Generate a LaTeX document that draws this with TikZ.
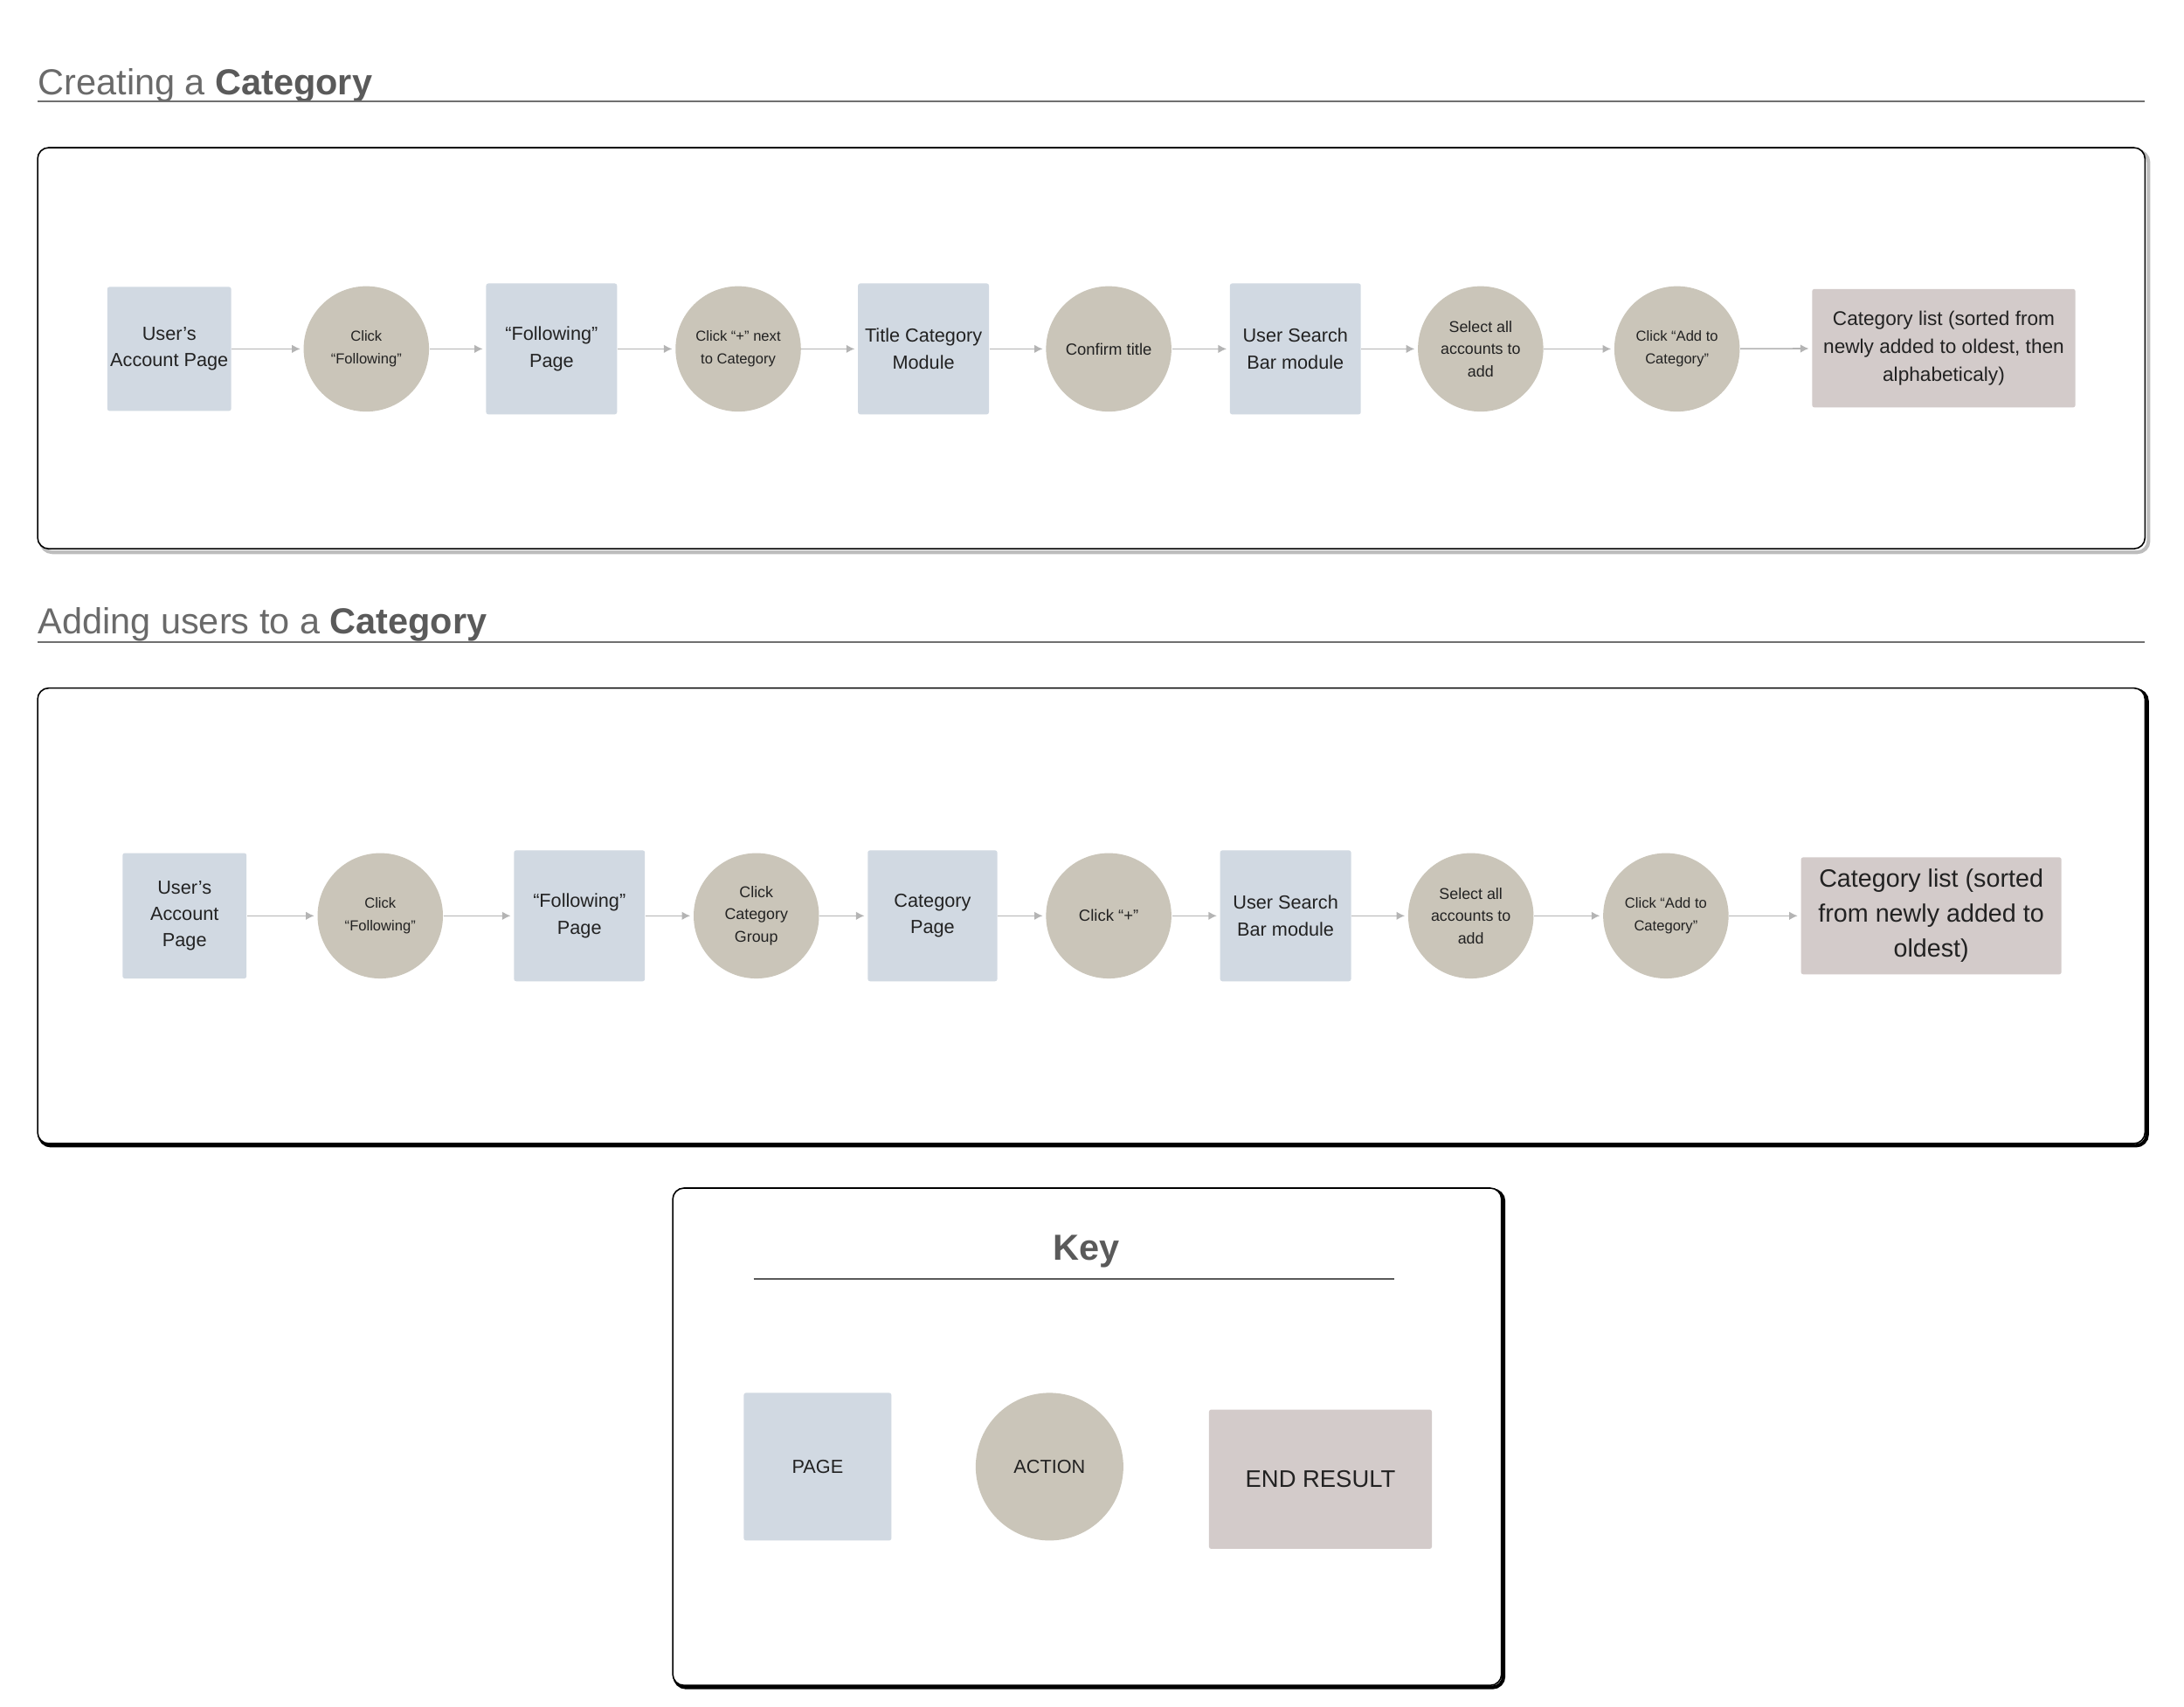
\documentclass[tikz,border=0pt]{standalone}
\usepackage{fontspec}
\setmainfont{Liberation Sans}
\usetikzlibrary{arrows.meta}

\definecolor{pagefill}{HTML}{D1D9E2}
\definecolor{actionfill}{HTML}{CAC5B9}
\definecolor{endfill}{HTML}{D3CBCA}
\definecolor{headgray}{HTML}{5A5A5A}
\definecolor{headlight}{HTML}{6A6A6A}
\definecolor{rulegray}{HTML}{707070}
\definecolor{flowgray}{HTML}{B4B4B4}
\definecolor{shadowgray}{HTML}{BDBDBD}
\definecolor{inkcol}{HTML}{222222}

\tikzset{
  pagebox/.style={rectangle, rounded corners=0.8pt, fill=pagefill, text=inkcol,
    align=center, inner sep=0pt, font=\fontsize{6.8}{9.5}\selectfont},
  actionbox/.style={circle, fill=actionfill, text=inkcol, align=center,
    inner sep=0pt, minimum size=45pt, font=\fontsize{5.2}{8}\selectfont},
  endbox/.style={rectangle, rounded corners=0.8pt, fill=endfill, text=inkcol,
    align=center, inner sep=0pt},
  flow/.style={draw=flowgray, line width=0.5pt, -{Latex[length=3pt,width=3pt]}, shorten >=1pt},
  heading/.style={anchor=base west, inner sep=0pt, text=headlight, font=\fontsize{13}{15}\selectfont},
  frame/.style={draw=black, fill=white, line width=0.5pt, rounded corners=4pt}
}

\begin{document}
\begin{tikzpicture}[x=0.5pt, y=-0.5pt]
  \useasboundingbox (0,0) rectangle (1568,1225);

  % Creating a Category
  \node[heading] (headA) at (27,68) {Creating a \textcolor{headgray}{\textbf{Category}}};
  \draw[rulegray, line width=0.6pt] (27,73) -- (1540,73);
  \draw[shadowgray, line width=1.3pt, rounded corners=4pt] (29.5,108.5) rectangle (1542.5,396.5);
  \draw[frame] (27,106) rectangle (1540,394);

  \node[pagebox, minimum width=44.5pt, minimum height=44.5pt] (a1) at (121.5,250.5) {User’s\\Account Page};
  \node[actionbox] (a2) at (263,250.5) {Click\\“Following”};
  \node[pagebox, minimum width=47pt, minimum height=47pt] (a3) at (396,250.5) {“Following”\\Page};
  \node[actionbox] (a4) at (530,250.5) {Click “+” next\\to Category};
  \node[pagebox, minimum width=47pt, minimum height=47pt] (a5) at (663,250.5) {Title Category\\Module};
  \node[actionbox, font=\fontsize{5.8}{8}\selectfont] (a6) at (796,250.5) {Confirm title};
  \node[pagebox, minimum width=47pt, minimum height=47pt] (a7) at (930,250.5) {User Search\\Bar module};
  \node[actionbox, font=\fontsize{5.6}{8}\selectfont] (a8) at (1063,250.5) {Select all\\accounts to\\add};
  \node[actionbox] (a9) at (1204,250.5) {Click “Add to\\Category”};
  \node[endbox, minimum width=94.5pt, minimum height=42.5pt, font=\fontsize{7.1}{10}\selectfont] (a10) at (1395.5,250)
    {Category list (sorted from\\newly added to oldest, then\\alphabeticaly)};

  \foreach \u/\v in {a1/a2, a2/a3, a3/a4, a4/a5, a5/a6, a6/a7, a7/a8, a8/a9, a9/a10}
    \draw[flow] (\u) -- (\v);

  % Adding users to a Category
  \node[heading] (headB) at (27,455) {Adding users to a \textcolor{headgray}{\textbf{Category}}};
  \draw[rulegray, line width=0.6pt] (27,461) -- (1540,461);
  \draw[black, line width=1.3pt, rounded corners=4pt] (28.5,495.5) rectangle (1541.5,822.5);
  \draw[frame] (27,494) rectangle (1540,821);

  \node[pagebox, minimum width=44.5pt, minimum height=45pt] (b1) at (132.5,657.5) {User’s\\Account\\Page};
  \node[actionbox] (b2) at (273,657.5) {Click\\“Following”};
  \node[pagebox, minimum width=47pt, minimum height=47pt] (b3) at (416,657.5) {“Following”\\Page};
  \node[actionbox, font=\fontsize{5.6}{8}\selectfont] (b4) at (543,657.5) {Click\\Category\\Group};
  \node[pagebox, minimum width=46.5pt, minimum height=47pt] (b5) at (669.5,657.5) {Category\\Page};
  \node[actionbox, font=\fontsize{5.8}{8}\selectfont] (b6) at (796,657.5) {Click “+”};
  \node[pagebox, minimum width=47pt, minimum height=47pt] (b7) at (923,657.5) {User Search\\Bar module};
  \node[actionbox, font=\fontsize{5.6}{8}\selectfont] (b8) at (1056,657.5) {Select all\\accounts to\\add};
  \node[actionbox] (b9) at (1196,657.5) {Click “Add to\\Category”};
  \node[endbox, minimum width=93.5pt, minimum height=42pt, font=\fontsize{9}{12.5}\selectfont] (b10) at (1386.5,657.5)
    {Category list (sorted\\from newly added to\\oldest)};

  \foreach \u/\v in {b1/b2, b2/b3, b3/b4, b4/b5, b5/b6, b6/b7, b7/b8, b8/b9, b9/b10}
    \draw[flow] (\u) -- (\v);

  % Key
  \draw[black, line width=1.3pt, rounded corners=4pt] (484.5,854.5) rectangle (1079.5,1211.5);
  \draw[frame] (483,853) rectangle (1078,1210);
  \node[anchor=base, inner sep=0pt, text=headgray, font=\fontsize{13}{15}\selectfont\bfseries] (keyhead) at (780,905) {Key};
  \draw[headgray, line width=0.6pt] (541,918) -- (1001,918);
  \node[pagebox, minimum width=53pt, minimum height=53pt] (keypage) at (587,1053) {PAGE};
  \node[actionbox, minimum size=53pt, font=\fontsize{6.8}{9}\selectfont] (keyaction) at (753.5,1053) {ACTION};
  \node[endbox, minimum width=80pt, minimum height=50pt, font=\fontsize{8.6}{11}\selectfont] (keyend) at (948,1062) {END RESULT};
\end{tikzpicture}
\end{document}
